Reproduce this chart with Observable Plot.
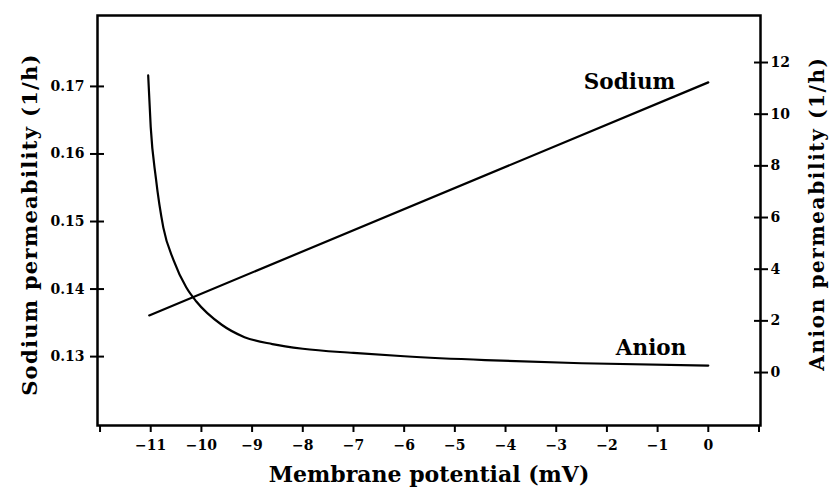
<!DOCTYPE html>
<html>
<head>
<meta charset="utf-8">
<script src="https://cdn.jsdelivr.net/npm/d3@7"></script>
<script src="https://cdn.jsdelivr.net/npm/@observablehq/plot@0.6"></script>
<style>
  html, body { margin: 0; padding: 0; background: #fff; }
  #chart { position: relative; width: 830px; height: 491px; }
  #chart svg { position: absolute; left: 0; top: 0; }
</style>
</head>
<body>
<div id="chart"></div>
<script>
// ---- data ----
const potentialDomain = [-12.05, 1.03];
const sodiumDomain = [0.1198, 0.1805];
const anionDomain = [-2.05, 13.82];

const xTicks = [-12, -11, -10, -9, -8, -7, -6, -5, -4, -3, -2, -1, 0, 1];
const xTickLabels = [-11, -10, -9, -8, -7, -6, -5, -4, -3, -2, -1, 0];
const sodiumTicks = [0.13, 0.14, 0.15, 0.16, 0.17];
const anionTicks = [0, 2, 4, 6, 8, 10, 12];

const sodiumPotential = [-11.03, 0];
const sodiumValue = [0.1361, 0.1706];

const anionPotential = [-11.05, -11.0, -10.9, -10.75, -10.55, -10.3, -10.1, -9.6, -9.15, -8.6, -8.0, -7.0, -6.0, -4.4, -2.5, 0];
const anionValue = [11.5, 9.5, 7.55, 5.6, 4.35, 3.3, 2.75, 1.85, 1.37, 1.1, 0.92, 0.76, 0.63, 0.48, 0.36, 0.27];

const seriesLabels = ["Sodium", "Anion"];
const xLabel = "Membrane potential (mV)";
const yLeftLabel = "Sodium permeability (1/h)";
const yRightLabel = "Anion permeability (1/h)";

// ---- build tables ----
const sodium = sodiumPotential.map((x, i) => ({x, y: sodiumValue[i]}));
const anion = anionPotential.map((x, i) => ({x, y: anionValue[i]}));

const FONT = "'DejaVu Serif', 'Liberation Serif', serif";
const common = {
  width: 830, height: 491,
  marginTop: 15, marginRight: 70, marginBottom: 66, marginLeft: 97,
  style: {fontFamily: FONT, fontWeight: "bold", fontSize: "14px", background: "transparent", color: "black"}
};

const fmtX = d3.format("d");
const p1 = Plot.plot({
  ...common,
  x: {domain: potentialDomain},
  y: {domain: sodiumDomain},
  marks: [
    Plot.frame({stroke: "black", strokeWidth: 2.5}),
    Plot.axisX({ticks: xTicks, tickSize: 7, strokeWidth: 2, tickPadding: 8, label: null,
      tickFormat: d => xTickLabels.includes(d) ? fmtX(d) : "", fontSize: 14}),
    Plot.axisY({ticks: sodiumTicks, tickSize: 14, dx: 7, strokeWidth: 2, tickFormat: () => "", label: null}),
    Plot.axisY({ticks: sodiumTicks, tickSize: 0, tickPadding: 13, tickFormat: d3.format(".2f"), label: null, fontSize: 14}),
    Plot.line(sodium, {x: "x", y: "y", stroke: "black", strokeWidth: 2.2}),
    Plot.text(sodium, Plot.selectLast({x: "x", y: "y", text: () => seriesLabels[0],
      textAnchor: "end", dx: -33, dy: 0, fontSize: 21.5, fontWeight: "bold"})),
    Plot.text([xLabel], {frameAnchor: "bottom", textAnchor: "middle", lineAnchor: "middle", dy: 49, fontSize: 22, fontWeight: "bold"}),
    Plot.text([yLeftLabel], {frameAnchor: "left", textAnchor: "middle", lineAnchor: "middle", rotate: -90, dx: -67, dy: 4, fontSize: 21, fontWeight: "bold"})
  ]
});

const p2 = Plot.plot({
  ...common,
  x: {domain: potentialDomain, axis: null},
  y: {domain: anionDomain},
  marks: [
    Plot.axisY({anchor: "right", ticks: anionTicks, tickSize: 14, dx: -7, strokeWidth: 2, tickFormat: () => "", label: null}),
    Plot.axisY({anchor: "right", ticks: anionTicks, tickSize: 0, tickPadding: 10, tickFormat: d3.format("d"), label: null, fontSize: 14}),
    Plot.line(anion, {x: "x", y: "y", stroke: "black", strokeWidth: 2.2, curve: "monotone-x"}),
    Plot.text(anion, Plot.selectLast({x: "x", y: "y", text: () => seriesLabels[1],
      textAnchor: "end", dx: -22, dy: -17, fontSize: 21.5, fontWeight: "bold"})),
    Plot.text([yRightLabel], {frameAnchor: "right", textAnchor: "middle", lineAnchor: "middle", rotate: -90, dx: 57, dy: -7, fontSize: 20, fontWeight: "bold"})
  ]
});

// letter spacing for the rotated axis titles (styling only)
d3.select(p1).selectAll("text").filter(function() { return this.textContent === yLeftLabel; })
  .style("letter-spacing", "1.3px");
d3.select(p2).selectAll("text").filter(function() { return this.textContent === yRightLabel; })
  .style("letter-spacing", "1.6px");

const chart = document.getElementById("chart");
chart.appendChild(p1);
chart.appendChild(p2);
</script>
</body>
</html>
